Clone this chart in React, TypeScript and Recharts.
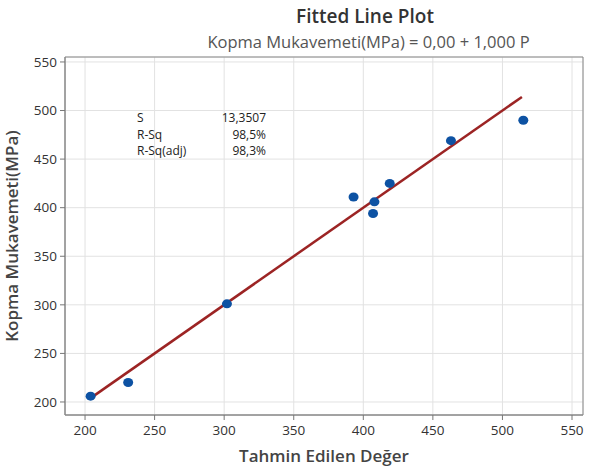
import { ScatterChart, Scatter, XAxis, YAxis, CartesianGrid, ReferenceArea, Label } from 'recharts'

const predicted = [204, 231, 302, 393, 407, 408, 419, 463, 515]
const strength = [206, 220, 301, 411, 394, 406, 425, 469, 490]
const fitX = [205, 514]
const fitIntercept = 0
const fitSlope = 1
const xTicks = [200, 250, 300, 350, 400, 450, 500, 550]
const yTicks = [200, 250, 300, 350, 400, 450, 500, 550]
const statLabels = ['S', 'R-Sq', 'R-Sq(adj)']
const statValues = ['13,3507', '98,5%', '98,3%']

const X_DOMAIN: [number, number] = [185.6, 557.9]
const Y_DOMAIN: [number, number] = [186.6, 555.1]

const points = predicted.map((x, i) => ({ x, y: strength[i] }))
const fitLine = fitX.map((x) => ({ x, y: fitIntercept + fitSlope * x }))

const FONT = '"Open Sans", "Noto Sans", sans-serif'

export default function App() {
    return (
        <div style={{ position: 'absolute', left: 0, top: 0, width: 589, height: 468, background: '#fff', fontFamily: FONT }}>
            <div style={{ position: 'absolute', left: 0, width: 730, top: 3, textAlign: 'center', fontSize: 19, fontWeight: 600, color: '#333' }}>
                Fitted Line Plot
            </div>
            <div style={{ position: 'absolute', left: 0, width: 737, top: 30, textAlign: 'center', fontSize: 16.5, color: '#555' }}>
                Kopma Mukavemeti(MPa) = 0,00 + 1,000 P
            </div>
            <ScatterChart width={589} height={468} margin={{ top: 57, right: 6, left: 0, bottom: 0 }} style={{ fontFamily: FONT }}>
                <CartesianGrid stroke="#e2e2e2" strokeWidth={1} />
                <XAxis
                    type="number"
                    dataKey="x"
                    domain={X_DOMAIN}
                    ticks={xTicks}
                    height={53}
                    tick={{ fill: '#333', fontSize: 13.5 }}
                    tickLine={{ stroke: '#777' }}
                    tickSize={5}
                    tickMargin={5}
                    axisLine={{ stroke: '#888' }}
                    allowDataOverflow
                >
                    <Label value="Tahmin Edilen Değer" position="insideBottom" offset={6} style={{ fill: '#444', fontSize: 17, fontWeight: 600 }} />
                </XAxis>
                <YAxis
                    type="number"
                    dataKey="y"
                    domain={Y_DOMAIN}
                    ticks={yTicks}
                    width={65}
                    tick={{ fill: '#333', fontSize: 13.5 }}
                    tickLine={{ stroke: '#777' }}
                    tickSize={5}
                    tickMargin={3}
                    axisLine={{ stroke: '#888' }}
                    allowDataOverflow
                >
                    <Label value="Kopma Mukavemeti(MPa)" angle={-90} position="insideLeft" offset={12} style={{ fill: '#444', fontSize: 17, fontWeight: 600, textAnchor: 'middle' }} />
                </YAxis>
                <ReferenceArea x1={X_DOMAIN[0]} x2={X_DOMAIN[1]} y1={Y_DOMAIN[0]} y2={Y_DOMAIN[1]} fill="none" stroke="#888" strokeWidth={1} fillOpacity={0} ifOverflow="visible" />
                <Scatter
                    data={fitLine}
                    line={{ stroke: '#9c2424', strokeWidth: 2.5 }}
                    shape={() => <g />}
                    isAnimationActive={false}
                />
                <Scatter
                    data={points}
                    shape={(p: any) => <ellipse cx={p.cx} cy={p.cy} rx={5} ry={4.5} fill="#0d52a3" />}
                    isAnimationActive={false}
                />
            </ScatterChart>
            {statLabels.map((s, i) => (
                <div key={s} style={{ position: 'absolute', left: 137, top: 109 + i * 16.5, width: 129, fontSize: 12, color: '#222', display: 'flex', justifyContent: 'space-between' }}>
                    <span>{s}</span>
                    <span>{statValues[i]}</span>
                </div>
            ))}
        </div>
    )
}
